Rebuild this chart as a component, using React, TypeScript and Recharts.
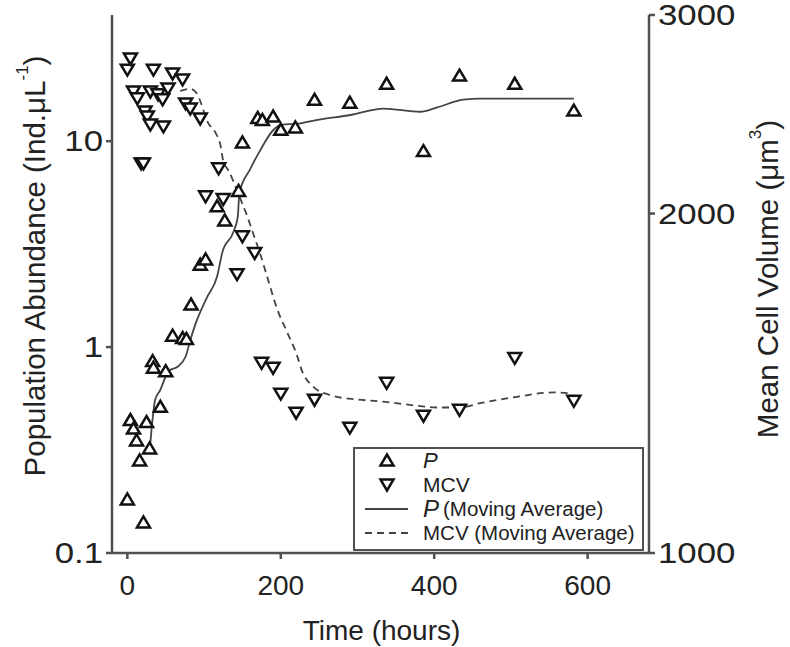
import React from 'react';
import { ComposedChart, XAxis, YAxis, Scatter, Line, Legend } from 'recharts';

const FONT = '"Liberation Sans", Arial, Helvetica, sans-serif';
const INK = '#222';
const AXIS = '#505050';

// Population abundance P (Ind.uL-1) observations
const pTime = [0, 21, 4, 8, 12, 16, 25, 29, 43, 33, 34, 50, 59, 72, 77, 83, 95, 102, 117, 127, 145, 150, 170, 176, 190, 200, 219, 244, 290, 338, 386, 433, 505, 582];
const pValue = [0.181, 0.14, 0.44, 0.4, 0.35, 0.28, 0.43, 0.32, 0.51, 0.85, 0.79, 0.76, 1.13, 1.1, 1.09, 1.6, 2.5, 2.65, 4.8, 4.1, 5.7, 9.8, 12.9, 12.6, 13.1, 11.3, 11.6, 15.8, 15.3, 18.9, 8.9, 20.7, 18.9, 14.0];

// Mean cell volume (um3) observations
const mcvTime = [0, 4, 34, 59, 72, 8, 13, 30, 40, 46, 53, 23, 26, 30, 47, 76, 82, 95, 18, 21, 119, 102, 125, 150, 166, 143, 175, 190, 200, 220, 244, 290, 338, 386, 433, 505, 582];
const mcvValue = [2686, 2748, 2686, 2665, 2633, 2569, 2533, 2569, 2554, 2528, 2585, 2466, 2441, 2401, 2392, 2507, 2481, 2431, 2218, 2218, 2196, 2074, 2062, 1911, 1847, 1769, 1476, 1461, 1386, 1333, 1369, 1293, 1417, 1325, 1341, 1491, 1366];

// Moving average of P
const pMaTime = [29, 33, 36, 43, 50, 55, 65, 76, 82, 89, 104, 117, 124, 138, 144, 146, 160, 173, 190, 200, 226, 243, 291, 334, 382, 404, 438, 460, 582];
const pMaValue = [0.31, 0.45, 0.55, 0.62, 0.72, 0.77, 0.8, 0.9, 1.08, 1.3, 1.75, 2.2, 2.9, 3.6, 4.3, 5.6, 7.3, 9.0, 11.3, 12.0, 12.2, 12.6, 13.4, 14.4, 13.9, 14.6, 15.9, 16.1, 16.1];

// Moving average of MCV
const mcvMaTime = [69, 82, 91, 95, 104, 115, 121, 125, 132, 138, 143, 157, 164, 173, 183, 196, 209, 222, 226, 243, 265, 295, 330, 373, 404, 434, 460, 503, 556, 578];
const mcvMaValue = [2569, 2580, 2554, 2517, 2416, 2358, 2306, 2227, 2183, 2138, 2096, 1983, 1920, 1844, 1751, 1641, 1566, 1491, 1461, 1403, 1380, 1369, 1363, 1352, 1346, 1346, 1358, 1374, 1388, 1385];

const xTicks = [0, 200, 400, 600];
const leftTicks = [0.1, 1, 10];
const rightTicks = [1000, 2000, 3000];

const zip = (t: number[], v: number[]) => t.map((x, i) => ({ t: x, v: v[i] }));
const pData = zip(pTime, pValue);
const mcvData = zip(mcvTime, mcvValue);
const pMaData = zip(pMaTime, pMaValue);
const mcvMaData = zip(mcvMaTime, mcvMaValue);

const UpTri = ({ cx, cy }: any) =>
  cx == null || cy == null ? null : (
    <polygon
      points={`${cx},${cy - 6.5} ${cx - 6.5},${cy + 4.5} ${cx + 6.5},${cy + 4.5}`}
      fill="#fff"
      stroke="#111"
      strokeWidth={2.5}
      strokeLinejoin="miter"
    />
  );

const DownTri = ({ cx, cy }: any) =>
  cx == null || cy == null ? null : (
    <polygon
      points={`${cx - 6.5},${cy - 4.5} ${cx + 6.5},${cy - 4.5} ${cx},${cy + 6.5}`}
      fill="#fff"
      stroke="#111"
      strokeWidth={2.5}
      strokeLinejoin="miter"
    />
  );

const YTick = (props: any) => {
  const { x, y, payload, textAnchor } = props;
  return (
    <g transform={`translate(${x},${y})`}>
      <text
        x={0}
        y={0}
        dy="0.355em"
        textAnchor={textAnchor}
        fontSize={29}
        fill={INK}
        fontFamily={FONT}
        transform="scale(1.2,1)"
      >
        {String(payload.value)}
      </text>
    </g>
  );
};

const LeftTitle = (props: any) => {
  const vb = props.viewBox || { x: 0, y: 15, width: 112, height: 538 };
  const cx = vb.x + 34;
  const cy = vb.y + vb.height / 2 - 18;
  return (
    <text
      x={cx}
      y={cy}
      transform={`rotate(-90 ${cx} ${cy})`}
      textAnchor="middle"
      dominantBaseline="central"
      fontSize={29.5}
      fill={INK}
      fontFamily={FONT}
    >
      Population Abundance (Ind.μL<tspan fontSize={17} dy={-12}>-1</tspan>
      <tspan dy={12}>)</tspan>
    </text>
  );
};

const RightTitle = (props: any) => {
  const vb = props.viewBox || { x: 649, y: 15, width: 141, height: 538 };
  const cx = vb.x + 118;
  const cy = vb.y + vb.height / 2 - 5;
  return (
    <text
      x={cx}
      y={cy}
      transform={`rotate(-90 ${cx} ${cy})`}
      textAnchor="middle"
      dominantBaseline="central"
      fontSize={29.5}
      fill={INK}
      fontFamily={FONT}
    >
      Mean Cell Volume (μm<tspan fontSize={17} dy={-12}>3</tspan>
      <tspan dy={12}>)</tspan>
    </text>
  );
};

const BottomTitle = (props: any) => {
  const vb = props.viewBox || { x: 112, y: 553, width: 537, height: 94 };
  return (
    <text
      x={vb.x + vb.width / 2 + 1}
      y={vb.y + 87}
      textAnchor="middle"
      fontSize={28}
      fill={INK}
      fontFamily={FONT}
    >
      Time (hours)
    </text>
  );
};

const rowStyle = (top: number): React.CSSProperties => ({
  position: 'absolute',
  left: 0,
  top: top - 11,
  height: 22,
  width: '100%',
  display: 'flex',
  alignItems: 'center',
});

const LegendBox = () => (
  <div
    style={{
      width: 287,
      height: 100,
      border: `2px solid ${AXIS}`,
      background: '#fff',
      position: 'relative',
      fontFamily: FONT,
      color: INK,
      fontSize: 20,
      lineHeight: 1,
    }}
  >
    <div style={rowStyle(12)}>
      <svg width={68} height={22} style={{ flex: 'none' }}>
        <UpTri cx={32} cy={11} />
      </svg>
      <span style={{ fontStyle: 'italic', fontSize: 22 }}>P</span>
    </div>
    <div style={rowStyle(35)}>
      <svg width={68} height={22} style={{ flex: 'none' }}>
        <DownTri cx={32} cy={11} />
      </svg>
      <span style={{ fontSize: 21 }}>MCV</span>
    </div>
    <div style={rowStyle(60)}>
      <svg width={68} height={22} style={{ flex: 'none' }}>
        <line x1={10} x2={53} y1={11} y2={11} stroke="#444" strokeWidth={1.8} />
      </svg>
      <span style={{ fontStyle: 'italic', fontSize: 24 }}>P</span>
      <span style={{ marginLeft: 4, fontSize: 20.5 }}>(Moving Average)</span>
    </div>
    <div style={rowStyle(84)}>
      <svg width={68} height={22} style={{ flex: 'none' }}>
        <line x1={10} x2={53} y1={11} y2={11} stroke="#444" strokeWidth={1.8} strokeDasharray="7 5" />
      </svg>
      <span style={{ fontSize: 20.5 }}>MCV (Moving Average)</span>
    </div>
  </div>
);

const tickStyle = { fontSize: 28, fill: INK, fontFamily: FONT };
const lineStyle = { stroke: AXIS, strokeWidth: 2.5 };

export default function App() {
  return (
    <div style={{ position: 'absolute', left: 0, top: 0, background: '#fff' }}>
      <ComposedChart width={790} height={647} margin={{ top: 15, right: 0, bottom: 0, left: 0 }}>
        <XAxis
          xAxisId="bottom"
          dataKey="t"
          type="number"
          domain={[-20, 680]}
          allowDataOverflow
          ticks={xTicks}
          height={94}
          tick={tickStyle}
          tickLine={lineStyle}
          axisLine={lineStyle}
          tickSize={6}
          tickMargin={16}
          label={<BottomTitle />}
        />
        <XAxis
          xAxisId="top"
          orientation="top"
          dataKey="t"
          type="number"
          domain={[-20, 680]}
          allowDataOverflow
          height={0}
          tick={false}
          tickLine={false}
          axisLine={lineStyle}
        />
        <YAxis
          yAxisId="left"
          scale="log"
          domain={[0.1, 41]}
          allowDataOverflow
          ticks={leftTicks}
          width={112}
          tick={<YTick />}
          tickLine={lineStyle}
          axisLine={lineStyle}
          tickSize={6}
          tickMargin={3}
          label={<LeftTitle />}
        />
        <YAxis
          yAxisId="right"
          orientation="right"
          scale="log"
          domain={[1000, 3000]}
          allowDataOverflow
          ticks={rightTicks}
          width={141}
          tick={<YTick />}
          tickLine={lineStyle}
          axisLine={lineStyle}
          tickSize={6}
          tickMargin={3}
          label={<RightTitle />}
        />
        <Line
          data={pMaData}
          xAxisId="bottom"
          yAxisId="left"
          dataKey="v"
          type="monotone"
          stroke="#444"
          strokeWidth={1.8}
          dot={false}
          activeDot={false}
          isAnimationActive={false}
          legendType="none"
        />
        <Line
          data={mcvMaData}
          xAxisId="bottom"
          yAxisId="right"
          dataKey="v"
          type="monotone"
          stroke="#444"
          strokeWidth={1.8}
          strokeDasharray="7 5"
          dot={false}
          activeDot={false}
          isAnimationActive={false}
          legendType="none"
        />
        <Scatter
          data={pData}
          xAxisId="bottom"
          yAxisId="left"
          dataKey="v"
          shape={(p: any) => <UpTri cx={p.cx} cy={p.cy} />}
          isAnimationActive={false}
        />
        <Scatter
          data={mcvData}
          xAxisId="bottom"
          yAxisId="right"
          dataKey="v"
          shape={(p: any) => <DownTri cx={p.cx} cy={p.cy} />}
          isAnimationActive={false}
        />
        <Legend
          layout="horizontal"
          verticalAlign="middle"
          align="center"
          content={() => <LegendBox />}
          wrapperStyle={{ position: 'absolute', left: 353, top: 447, width: 291, height: 104, margin: 0 }}
        />
      </ComposedChart>
    </div>
  );
}
